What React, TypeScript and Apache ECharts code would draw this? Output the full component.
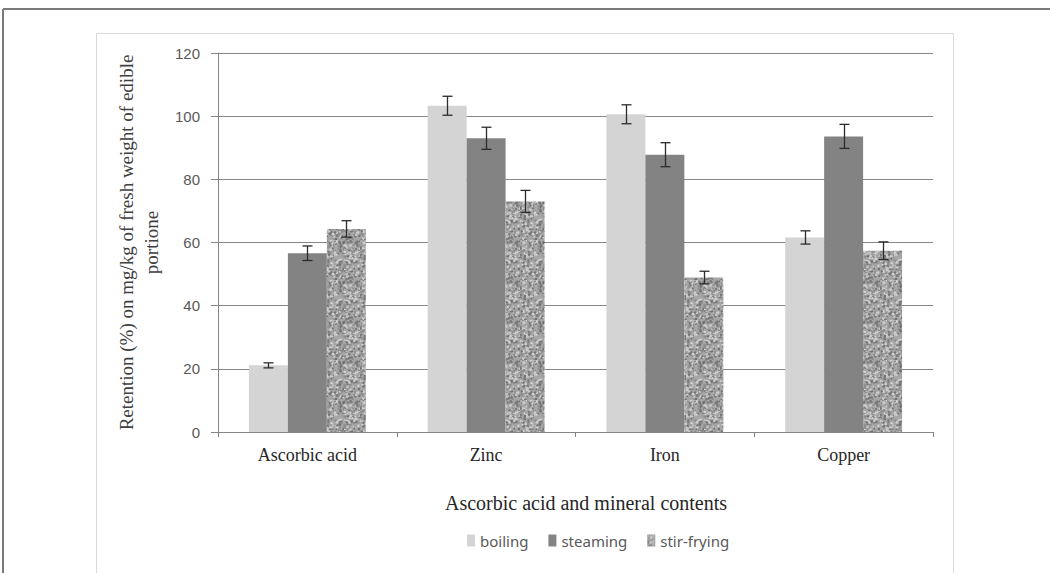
import React, { useEffect, useRef } from "react";
import * as echarts from "echarts";

const categories = ["Ascorbic acid", "Zinc", "Iron", "Copper"];
const seriesNames = ["boiling", "steaming", "stir-frying"];
const boiling = [21.1, 103.3, 100.6, 61.6];
const steaming = [56.6, 93.0, 87.8, 93.6];
const stirFrying = [64.3, 73.0, 48.9, 57.4];
const boilingErr = [0.8, 3.0, 3.0, 2.1];
const steamingErr = [2.3, 3.5, 3.8, 3.8];
const stirFryingErr = [2.6, 3.5, 2.0, 2.8];
const yTicks = { min: 0, max: 120, interval: 20 };

const BAR_FRAC = 0.218;

function makeTexture(): HTMLCanvasElement {
  const c = document.createElement("canvas");
  c.width = 40;
  c.height = 40;
  const ctx = c.getContext("2d")!;
  ctx.fillStyle = "#a6a6a6";
  ctx.fillRect(0, 0, 40, 40);
  let s = 98765;
  const rnd = () => {
    s = (s * 1103515245 + 12345) & 0x7fffffff;
    return s / 0x7fffffff;
  };
  for (let i = 0; i < 380; i++) {
    const x = rnd() * 40;
    const y = rnd() * 40;
    const r = 0.5 + rnd() * 1.0;
    const t = rnd();
    ctx.fillStyle = t < 0.4 ? "#747474" : t < 0.75 ? "#cfcfcf" : "#8e8e8e";
    ctx.beginPath();
    ctx.arc(x, y, r, 0, Math.PI * 2);
    ctx.fill();
  }
  return c;
}

export default function App() {
  const ref = useRef<HTMLDivElement>(null);
  useEffect(() => {
    if (!ref.current) return;
    const chart = echarts.init(ref.current, undefined, { renderer: "svg" });
    const tex = makeTexture();
    const pattern: any = { image: tex, repeat: "repeat" };
    const values = [boiling, steaming, stirFrying];
    const errs = [boilingErr, steamingErr, stirFryingErr];
    const colors: any[] = ["#d4d4d4", "#838383", pattern];

    const barSeries = values.map((v, i) => ({
      name: seriesNames[i],
      type: "bar",
      data: v,
      barWidth: BAR_FRAC * 100 + "%",
      barGap: "0%",
      itemStyle: { color: colors[i] },
      z: 2,
    }));

    const errSeries = values.map((v, i) => ({
      type: "custom",
      name: "err" + i,
      z: 5,
      silent: true,
      data: v.map((val, ci) => [ci, val - errs[i][ci], val + errs[i][ci]]),
      encode: { x: 0, y: [1, 2] },
      renderItem: (params: any, api: any) => {
        const ci = api.value(0);
        const lo = api.value(1);
        const hi = api.value(2);
        const band = api.size([1, 0])[0];
        const bw = band * BAR_FRAC;
        const xc = Math.round(api.coord([ci, 0])[0] + (i - 1) * bw) + 0.5;
        const yLo = api.coord([ci, lo])[1];
        const yHi = api.coord([ci, hi])[1];
        const st = { stroke: "#2b2b2b", lineWidth: 1.3 };
        const hw = 5;
        return {
          type: "group",
          children: [
            { type: "line", shape: { x1: xc, y1: yLo, x2: xc, y2: yHi }, style: st },
            { type: "line", shape: { x1: xc - hw, y1: yLo, x2: xc + hw, y2: yLo }, style: st },
            { type: "line", shape: { x1: xc - hw, y1: yHi, x2: xc + hw, y2: yHi }, style: st },
          ],
        };
      },
    }));

    chart.setOption({
      animation: false,
      backgroundColor: "#ffffff",
      grid: { left: 218, right: 117, top: 53, bottom: 141, containLabel: false },
      legend: {
        data: seriesNames,
        left: 462,
        top: 528,
        itemWidth: 8,
        itemHeight: 12,
        itemGap: 20,
        icon: "rect",
        textStyle: { fontFamily: "Noto Sans", fontSize: 15, color: "#595959" },
      },
      xAxis: {
        type: "category",
        data: categories,
        axisLine: { lineStyle: { color: "#868686", width: 1 } },
        axisTick: { show: true, length: 5, lineStyle: { color: "#868686" } },
        axisLabel: {
          fontFamily: "Liberation Serif",
          fontSize: 18,
          color: "#262626",
          margin: 14,
        },
      },
      yAxis: {
        type: "value",
        min: yTicks.min,
        max: yTicks.max,
        interval: yTicks.interval,
        axisLine: { show: true, lineStyle: { color: "#868686", width: 1 } },
        axisTick: { show: true, length: 7, lineStyle: { color: "#868686" } },
        splitLine: { lineStyle: { color: "#868686", width: 1 } },
        axisLabel: {
          fontFamily: "Liberation Sans",
          fontSize: 15,
          color: "#595959",
          margin: 18,
        },
        name: "Retention (%) on mg/kg of fresh weight of edible\nportione",
        nameLocation: "middle",
        nameGap: 50,
        nameTextStyle: {
          fontFamily: "Liberation Serif",
          fontSize: 19,
          color: "#404040",
          lineHeight: 25,
        },
      },
      graphic: [
        {
          type: "line",
          shape: { x1: 3, y1: 9, x2: 1050, y2: 9 },
          style: { stroke: "#7a7a7a", lineWidth: 2 },
        },
        {
          type: "line",
          shape: { x1: 3, y1: 9, x2: 3, y2: 573 },
          style: { stroke: "#7a7a7a", lineWidth: 2 },
        },
        {
          type: "polyline",
          shape: { points: [[96.5, 580], [96.5, 33.5], [953.5, 33.5], [953.5, 580]] },
          style: { stroke: "#d9d9d9", lineWidth: 1, fill: "none" },
          z: -1,
        },
        {
          type: "text",
          x: 586,
          y: 503,
          style: {
            text: "Ascorbic acid and mineral contents",
            fontFamily: "Liberation Serif",
            fontSize: 20,
            fill: "#262626",
            textAlign: "center",
            textVerticalAlign: "middle",
          },
        },
      ],
      series: [...barSeries, ...errSeries],
    } as any);
    return () => chart.dispose();
  }, []);
  return (
    <div
      ref={ref}
      style={{ position: "absolute", left: 0, top: 0, width: 1050, height: 573 }}
    />
  );
}
